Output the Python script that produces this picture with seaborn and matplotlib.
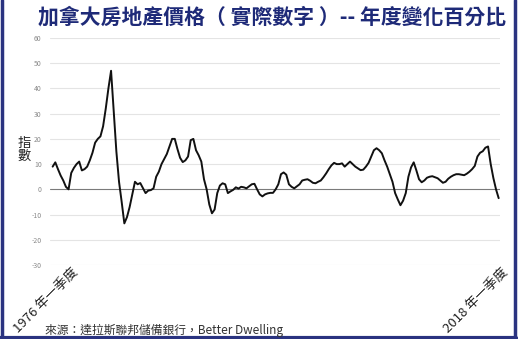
import matplotlib
matplotlib.use("Agg")
import matplotlib.pyplot as plt
import seaborn as sns
import pandas as pd
import numpy as np
from matplotlib.lines import Line2D

sns.set_theme(style="white")
plt.rcParams['font.family'] = ['Noto Sans CJK TC', 'DejaVu Sans']

title = "加拿大房地產價格（ 實際數字 ）-- 年度變化百分比"
ylabel = "指\n數"
start_label = "1976 年一季度"
end_label = "2018 年一季度"
source = "來源：達拉斯聯邦儲備銀行，Better Dwelling"
yticks = [-30, -20, -10, 0, 10, 20, 30, 40, 50, 60]

# quarterly year-over-year % change, 1976Q1 .. 2018Q1
values = [
    9, 10.7, 8, 5.5, 3.5, 1, 0, 6.5, 8.5, 10,
    11, 7.5, 8, 9, 11.5, 14.5, 18.5, 20, 21, 25,
    32, 40, 47, 31, 15, 3, -5, -13.5, -11, -7,
    -2, 3, 2, 2.5, 0.5, -1.5, -0.5, -0.3, 0.4, 5,
    7, 10, 12, 14, 17, 20, 20, 16, 12.5, 10.8,
    11.5, 13, 19.5, 20, 15.5, 13.5, 11, 4, 0, -6,
    -9.5, -8, -1.5, 1.5, 2.4, 2, -1.5, -0.8, -0.2, 0.8,
    0.3, 1, 0.8, 0.4, 1.2, 2, 2.2, 0, -2, -2.8,
    -2, -1.6, -1.4, -1.4, 0, 2, 6, 6.7, 5.8, 2,
    1, 0.4, 1.2, 2, 3.5, 3.8, 4, 3.4, 2.6, 2.4,
    3, 3.5, 4.8, 6.3, 8, 9.5, 10.5, 10, 10, 10.3,
    9, 10, 11, 10, 9, 8.3, 7.6, 7.8, 9, 10.5,
    13, 15.5, 16.3, 15.5, 14.3, 11.5, 9, 6, 3, -1.5,
    -4, -6.3, -4.5, -1.5, 5, 8.7, 10.7, 7.5, 4, 2.8,
    3.5, 4.6, 5, 5.2, 4.8, 4.4, 3.5, 2.6, 3, 4.2,
    5, 5.6, 6, 6, 5.8, 5.6, 6.2, 7, 8, 9.3,
    13, 14.5, 15.1, 16.5, 17, 10, 4.5, 0, -3.5,
]
quarters = list(range(len(values)))

df = pd.DataFrame({"q": quarters, "v": values})

fig = plt.figure(figsize=(5.2, 3.39), dpi=100)
ax = fig.add_axes([50/520, 1-265/339, 450/520, 227/339])

for y in yticks:
    if y != 0:
        ax.axhline(y, color="#e4e4e4", lw=0.8, zorder=0)
ax.axhline(0, color="#7a7a7a", lw=0.8, zorder=1)

sns.lineplot(data=df, x="q", y="v", ax=ax, color="#111111", lw=1.4, zorder=3)

ax.set_xlim(-1, len(values) - 1 + 0.5)
ax.set_ylim(-30, 60)
ax.set_yticks(yticks)
ax.set_yticklabels([str(t) for t in yticks], fontsize=5, color="#8a8a8a")
ax.tick_params(axis="y", length=0, pad=6)
ax.set_xticks([])
ax.set_xlabel("")
ax.set_ylabel("")
for s in ax.spines.values():
    s.set_visible(False)

fig.text(272/520, 1-17/339, title, fontsize=15, fontweight="bold",
         color="#1e2a78", ha="center", va="center")
fig.text(24/520, 1-150/339, ylabel, fontsize=9.5, color="#222222",
         ha="center", va="center", linespacing=1.0)
fig.text(46/520, 1-301/339, start_label, fontsize=9.5, color="#222222",
         rotation=45, ha="center", va="center")
fig.text(476/520, 1-301/339, end_label, fontsize=9.5, color="#222222",
         rotation=45, ha="center", va="center")
fig.text(45/520, 1-330/339, source, fontsize=8.5, color="#333333",
         ha="left", va="center")

# dark frame on left, right and bottom
border = "#2a3380"
fig.add_artist(Line2D([1.5/520, 1.5/520], [0, 1], color=border, lw=2.5,
                      transform=fig.transFigure))
fig.add_artist(Line2D([515/520, 515/520], [0, 1], color=border, lw=2.5,
                      transform=fig.transFigure))
fig.add_artist(Line2D([0, 516/520], [1.5/339, 1.5/339], color=border, lw=3,
                      transform=fig.transFigure))

fig.savefig("out.png", dpi=100)
